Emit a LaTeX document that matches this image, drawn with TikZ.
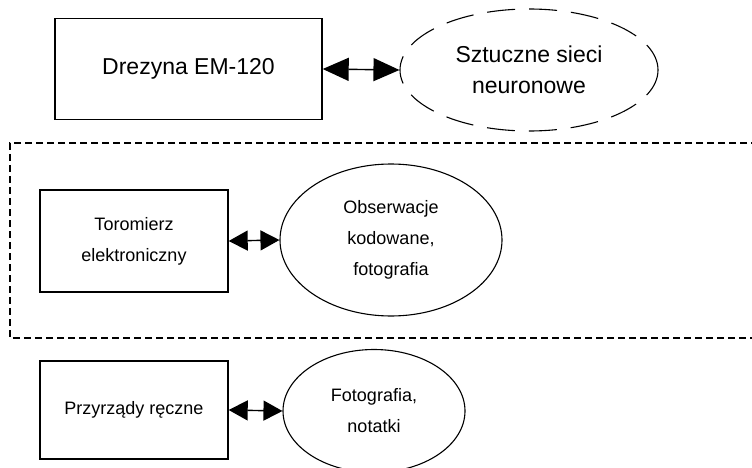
\documentclass[tikz,border=0pt]{standalone}
\usepackage{fontspec}
\setmainfont{Liberation Sans}
\usetikzlibrary{shapes.geometric,arrows.meta}
\begin{document}
\begin{tikzpicture}[x=1pt,y=-1pt,
  boxA/.style={draw,line width=1.4pt,rectangle,inner sep=0pt,align=center},
  ellA/.style={draw,line width=1.1pt,ellipse,inner sep=0pt,align=center},
  bigtxt/.style={font=\fontsize{23}{31}\selectfont},
  smalltxt/.style={font=\fontsize{18}{31}\selectfont},
  arrbig/.style={line width=1.4pt,{Triangle[length=26pt,width=23pt]}-{Triangle[length=26pt,width=23pt]}},
  arrsmall/.style={line width=1.4pt,{Triangle[length=19pt,width=20pt]}-{Triangle[length=19pt,width=20pt]}},
  frame/.style={draw,line width=1.1pt,dash pattern=on 7pt off 4pt}
]
\useasboundingbox (0,0) rectangle (752,468);
\clip (0,0) rectangle (752,468);

% row 1
\node[boxA,bigtxt,minimum width=267pt,minimum height=101pt] (b1) at (188.5,69) {Drezyna EM-120};
\node[ellA,bigtxt,dash pattern=on 28pt off 14pt,minimum width=258pt,minimum height=122pt] (e1) at (529,70) {Sztuczne sieci\\neuronowe};
\draw[arrbig] (b1.east) -- (e1.west);

% dashed frame
\draw[frame] (780,143) -- (10,143) -- (10,338) -- (780,338);

% row 2
\node[boxA,smalltxt,minimum width=188pt,minimum height=102pt] (b2) at (134,241) {Toromierz\\elektroniczny};
\node[ellA,smalltxt,minimum width=222pt,minimum height=152pt] (e2) at (391,240) {Obserwacje\\kodowane,\\fotografia};
\draw[arrsmall] (b2.east) -- (e2.west);

% row 3
\node[boxA,smalltxt,minimum width=188pt,minimum height=98pt] (b3) at (134,410) {Przyrządy ręczne};
\node[ellA,smalltxt,minimum width=182pt,minimum height=123pt] (e3) at (374,411) {Fotografia,\\notatki};
\draw[arrsmall] (b3.east) -- (e3.west);
\end{tikzpicture}
\end{document}
